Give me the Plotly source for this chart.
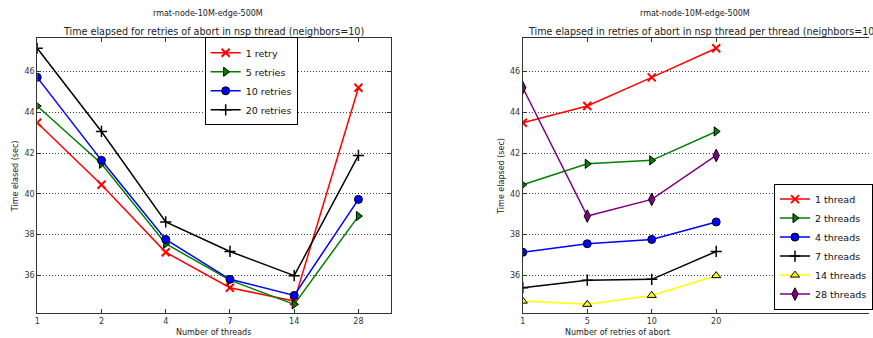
import plotly.graph_objects as go

# ---- data ----
threads = ["1", "2", "4", "7", "14", "28"]
retries = ["1", "5", "10", "20"]
retry_labels = ["1 retry", "5 retries", "10 retries", "20 retries"]
thread_labels = ["1 thread", "2 threads", "4 threads", "7 threads", "14 threads", "28 threads"]
t_retry1 = [43.49, 40.44, 37.12, 35.38, 34.72, 45.21]
t_retry5 = [44.31, 41.47, 37.54, 35.75, 34.56, 38.90]
t_retry10 = [45.72, 41.64, 37.75, 35.79, 35.00, 39.72]
t_retry20 = [47.15, 43.06, 38.61, 37.16, 35.97, 41.88]
y_ticks = [36, 38, 40, 42, 44, 46]

by_retry = [t_retry1, t_retry5, t_retry10, t_retry20]

W, H = 873, 338
FONT = "DejaVu Sans"

def px_x(p):
    return p / W

def px_y(p):
    return 1 - p / H

retry_styles = [
    dict(color="#ff0000", symbol="x-thin", mline=dict(color="#ff0000", width=2), size=8),
    dict(color="#008000", symbol="triangle-right", mline=dict(color="#000000", width=1), size=8),
    dict(color="#0000ff", symbol="circle", mline=dict(color="#000000", width=1), size=8),
    dict(color="#000000", symbol="cross-thin", mline=dict(color="#000000", width=1.5), size=8),
]
thread_styles = [
    dict(color="#ff0000", symbol="x-thin", mline=dict(color="#ff0000", width=2), size=8),
    dict(color="#008000", symbol="triangle-right", mline=dict(color="#000000", width=1), size=8),
    dict(color="#0000ff", symbol="circle", mline=dict(color="#000000", width=1), size=8),
    dict(color="#000000", symbol="cross-thin", mline=dict(color="#000000", width=1.5), size=8),
    dict(color="#ffff00", symbol="triangle-up", mline=dict(color="#000000", width=1), size=8),
    dict(color="#800080", symbol="diamond-tall", mline=dict(color="#000000", width=1), size=9),
]

fig = go.Figure()

for name, vals, st in zip(retry_labels, by_retry, retry_styles):
    fig.add_trace(go.Scatter(
        x=threads, y=vals, name=name, mode="lines+markers",
        line=dict(color=st["color"], width=1.5),
        marker=dict(symbol=st["symbol"], color=st["color"], size=st["size"], line=st["mline"]),
        xaxis="x", yaxis="y", legend="legend",
    ))

for ti, (name, st) in enumerate(zip(thread_labels, thread_styles)):
    vals = [series[ti] for series in by_retry]
    fig.add_trace(go.Scatter(
        x=retries, y=vals, name=name, mode="lines+markers",
        line=dict(color=st["color"], width=1.5),
        marker=dict(symbol=st["symbol"], color=st["color"], size=st["size"], line=st["mline"]),
        xaxis="x2", yaxis="y2", legend="legend2",
    ))

y_top, y_bot = 38.3, 313.3
ydom = [px_y(y_bot), px_y(y_top)]
yrange = [34.12, 47.64]

axis_common = dict(
    showline=True, linecolor="#333", linewidth=1,
    ticks="inside", ticklen=4, tickcolor="#333",
    tickfont=dict(family=FONT, size=8, color="#333"),
    zeroline=False,
)

fig.update_layout(
    width=W, height=H,
    margin=dict(l=0, r=0, t=0, b=0),
    paper_bgcolor="white", plot_bgcolor="white",
    showlegend=True,
    font=dict(family=FONT, color="#222"),
    xaxis=dict(domain=[px_x(34.5), px_x(390.7)], type="category", range=[0, 5.5],
               mirror="ticks", showgrid=False, anchor="y", **axis_common),
    yaxis=dict(domain=ydom, range=yrange, tickvals=y_ticks, mirror="ticks",
               showgrid=True, gridcolor="#444", gridwidth=1, griddash="1px,2px",
               anchor="x", **axis_common),
    xaxis2=dict(domain=[px_x(524), 1.0], type="category", range=[0, 5.37],
                mirror="ticks", showgrid=False, anchor="y2", **axis_common),
    yaxis2=dict(domain=ydom, range=yrange, tickvals=y_ticks, mirror=False,
                showgrid=True, gridcolor="#444", gridwidth=1, griddash="1px,2px",
                anchor="x2", **axis_common),
    legend=dict(x=px_x(203.3), y=px_y(37.3), xanchor="left", yanchor="top",
                bgcolor="white", bordercolor="#000", borderwidth=1,
                font=dict(family=FONT, size=9.5, color="#111"),
                itemwidth=30, tracegroupgap=0),
    legend2=dict(x=px_x(777.3), y=px_y(246.6), xanchor="left", yanchor="middle",
                 bgcolor="white", bordercolor="#000", borderwidth=1,
                 font=dict(family=FONT, size=9.5, color="#111"),
                 itemwidth=30, tracegroupgap=0),
)

ann = []
def text(x, y, s, size, **kw):
    ann.append(dict(x=px_x(x), y=px_y(y), xref="paper", yref="paper", text=s,
                    showarrow=False, font=dict(family=FONT, size=size, color="#222"),
                    xanchor=kw.get("xanchor", "center"), yanchor="middle",
                    textangle=kw.get("angle", 0)))

text(207, 14, "rmat-node-10M-edge-500M", 8)
text(212.6, 31, "Time elapsed for retries of abort in nsp thread (neighbors=10)", 9.6)
text(212.6, 332, "Number of threads", 8)
text(12.5, 175.8, "Time elased (sec)", 8, angle=-90)

text(698, 14, "rmat-node-10M-edge-500M", 8)
text(527, 31, "Time elapsed in retries of abort in nsp thread per thread (neighbors=10)", 9.6, xanchor="left")
text(619, 332, "Number of retries of abort", 8)
text(503, 175.8, "Time elapsed (sec)", 8, angle=-90)

fig.update_layout(annotations=ann)

fig.write_html("out.html")
